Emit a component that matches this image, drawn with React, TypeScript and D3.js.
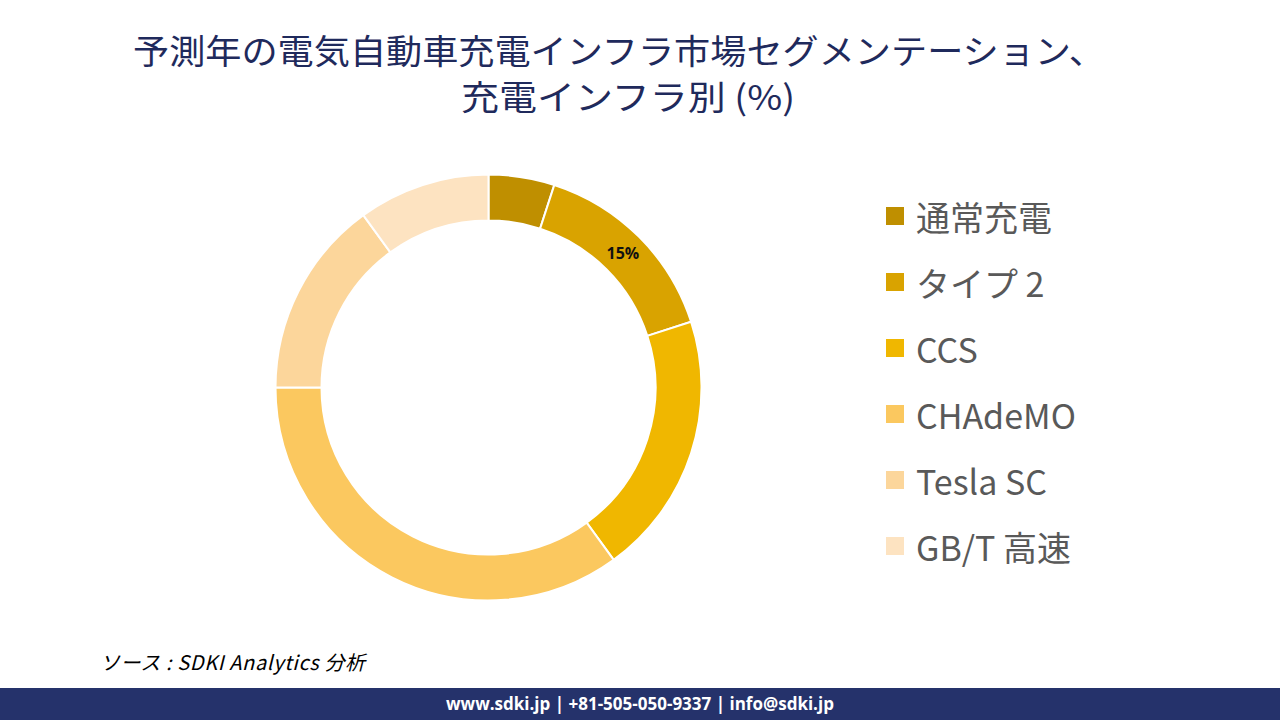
import React from "react";
import * as d3 from "d3";

const categories = ["通常充電", "タイプ 2", "CCS", "CHAdeMO", "Tesla SC", "GB/T 高速"];
const values = [5, 15, 20, 35, 15, 10];
const colors = ["#BF8F00", "#D9A300", "#F0B700", "#FBC85F", "#FCD69B", "#FDE3C1"];
const labelShown = [false, true, false, false, false, false];
const titleLines = ["予測年の電気自動車充電インフラ市場セグメンテーション、", "充電インフラ別 (%)"];

export default function App() {
  const W = 1280, H = 720;
  const cx = 488.5, cy = 387.5, rOuter = 213, rInner = 167;
  const pie = d3.pie<number>().sort(null).value((d) => d)(values);
  const arc = d3.arc<d3.PieArcDatum<number>>().innerRadius(rInner).outerRadius(rOuter);
  const labelArc = d3.arc<d3.PieArcDatum<number>>().innerRadius(rInner).outerRadius(rOuter);
  const legendY = d3.scalePoint<string>().domain(categories).range([216, 546]);
  const cjk = "'Noto Sans CJK JP', 'Noto Sans', sans-serif";
  return (
    <svg width={W} height={H} style={{ position: "absolute", left: 0, top: 0, background: "#fff" }}>
      <rect x={0} y={0} width={W} height={H} fill="#fff" />
      <text x={619} y={64} textAnchor="middle" fontFamily={cjk} fontSize={34} fill="#1F2A5C" textLength={972} lengthAdjust="spacingAndGlyphs">{titleLines[0]}</text>
      <text x={628} y={110} textAnchor="middle" fontFamily={cjk} fontSize={34} fill="#1F2A5C" textLength={334} lengthAdjust="spacingAndGlyphs">{titleLines[1]}</text>
      <g transform={`translate(${cx},${cy})`}>
        {pie.map((p, i) => (
          <path key={i} d={arc(p) || ""} fill={colors[i]} stroke="#fff" strokeWidth={2} />
        ))}
        {pie.map((p, i) => {
          if (!labelShown[i]) return null;
          const [x, y] = labelArc.centroid(p);
          return (
            <text key={"l" + i} x={x} y={y} textAnchor="middle" dominantBaseline="central" fontFamily="'Open Sans', sans-serif" fontWeight="bold" fontSize={16} fill="#111">
              {values[i]}%
            </text>
          );
        })}
      </g>
      {categories.map((c, i) => (
        <g key={c} transform={`translate(0,${legendY(c)})`}>
          <rect x={886} y={-9} width={18} height={18} fill={colors[i]} />
          <text x={916} y={0} dominantBaseline="central" fontFamily={cjk} fontSize={34} fill="#595959">{c}</text>
        </g>
      ))}
      <text x={100} y={670} fontFamily={cjk} fontStyle="italic" fontSize={20} fill="#000" textLength={265} lengthAdjust="spacing">ソース : SDKI Analytics  分析</text>
      <rect x={0} y={688} width={W} height={32} fill="#25326B" />
      <text x={640} y={710} textAnchor="middle" fontFamily="'Open Sans', sans-serif" fontWeight="bold" fontSize={17} fill="#fff">www.sdki.jp | +81-505-050-9337 | info@sdki.jp</text>
    </svg>
  );
}
